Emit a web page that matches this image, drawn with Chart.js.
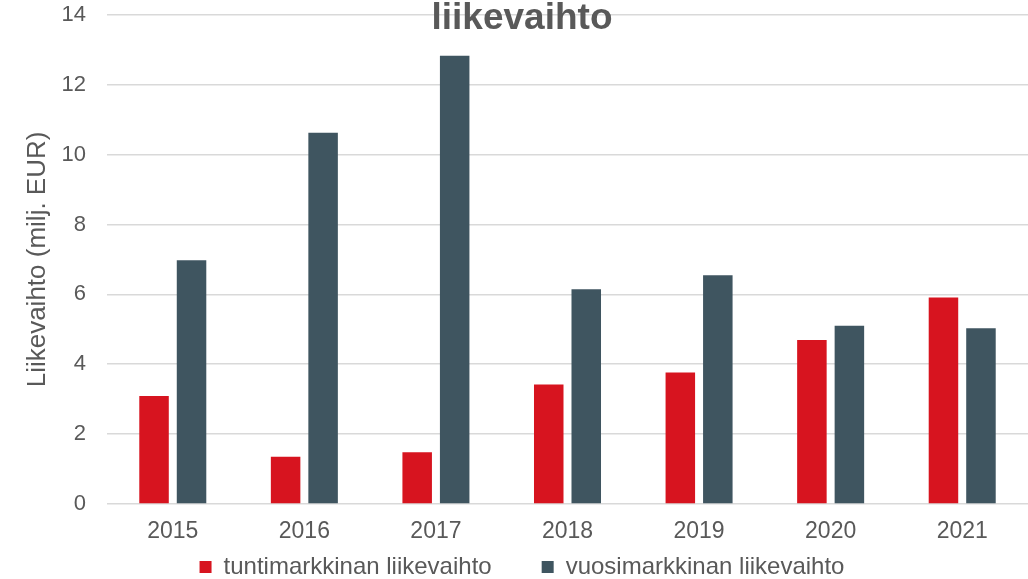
<!DOCTYPE html>
<html>
<head>
<meta charset="utf-8">
<script src="https://cdn.jsdelivr.net/npm/chart.js@4/dist/chart.umd.min.js"></script>
<style>
  html, body { margin: 0; padding: 0; background: #ffffff; }
  #wrap { width: 1028px; height: 579px; }
</style>
</head>
<body>
<div id="wrap"><canvas id="revenue-chart" width="1028" height="579"></canvas></div>
<script>
var years = ['2015', '2016', '2017', '2018', '2019', '2020', '2021'];
var seriesNames = ['tuntimarkkinan liikevaihto', 'vuosimarkkinan liikevaihto'];
var hourlyRevenue = [3.09, 1.35, 1.48, 3.42, 3.76, 4.69, 5.91];
var yearlyRevenue = [6.98, 10.63, 12.83, 6.15, 6.55, 5.10, 5.03];
var yTicks = [0, 2, 4, 6, 8, 10, 12, 14];

var textGrey = '#595959';
var fontFamily = '"Liberation Sans", Arial, sans-serif';

var ctx = document.getElementById('revenue-chart').getContext('2d');
var revenueChart = new Chart(ctx, {
  type: 'bar',
  data: {
    labels: years,
    datasets: [
      {
        label: seriesNames[0],
        data: hourlyRevenue,
        backgroundColor: '#D7141F',
        categoryPercentage: 0.57,
        barPercentage: 0.787
      },
      {
        label: seriesNames[1],
        data: yearlyRevenue,
        backgroundColor: '#3F5560',
        categoryPercentage: 0.57,
        barPercentage: 0.787
      }
    ]
  },
  options: {
    responsive: false,
    animation: false,
    layout: {
      padding: { top: 0, left: 16, right: 0, bottom: -10 }
    },
    plugins: {
      title: {
        display: true,
        text: 'liikevaihto',
        color: textGrey,
        font: { family: fontFamily, size: 37, weight: 'bold' },
        // title sits over the top gridline, so it takes almost no room
        padding: { top: -3.7, bottom: -25.7 }
      },
      legend: {
        position: 'bottom',
        labels: {
          color: textGrey,
          font: { family: fontFamily, size: 24 },
          boxWidth: 12,
          boxHeight: 12,
          padding: 10,
          generateLabels: function(chart) {
            var items = Chart.defaults.plugins.legend.labels.generateLabels(chart);
            // wider gap between the two legend entries
            items.forEach(function(item, i) {
              if (i < items.length - 1) item.text = item.text + '      ';
            });
            return items;
          }
        }
      },
      tooltip: { enabled: false }
    },
    scales: {
      x: {
        grid: { display: false, drawTicks: true, tickLength: 13.5 },
        border: { display: false },
        ticks: {
          color: textGrey,
          font: { family: fontFamily, size: 23 },
          padding: 0
        }
      },
      y: {
        min: 0,
        max: 14,
        afterBuildTicks: function(scale) {
          scale.ticks = yTicks.map(function(v) { return { value: v }; });
        },
        grid: {
          color: '#d9d9d9',
          lineWidth: 1.5,
          drawTicks: true,
          tickLength: 21,
          tickColor: 'rgba(0,0,0,0)'
        },
        border: { display: false },
        ticks: {
          color: textGrey,
          font: { family: fontFamily, size: 22 },
          padding: 0
        },
        title: {
          display: true,
          text: 'Liikevaihto (milj. EUR)',
          color: textGrey,
          font: { family: fontFamily, size: 26 },
          padding: { top: 6, bottom: 0 }
        },
        afterFit: function(scale) {
          scale.width = 91;
        }
      }
    }
  }
});
</script>
</body>
</html>
